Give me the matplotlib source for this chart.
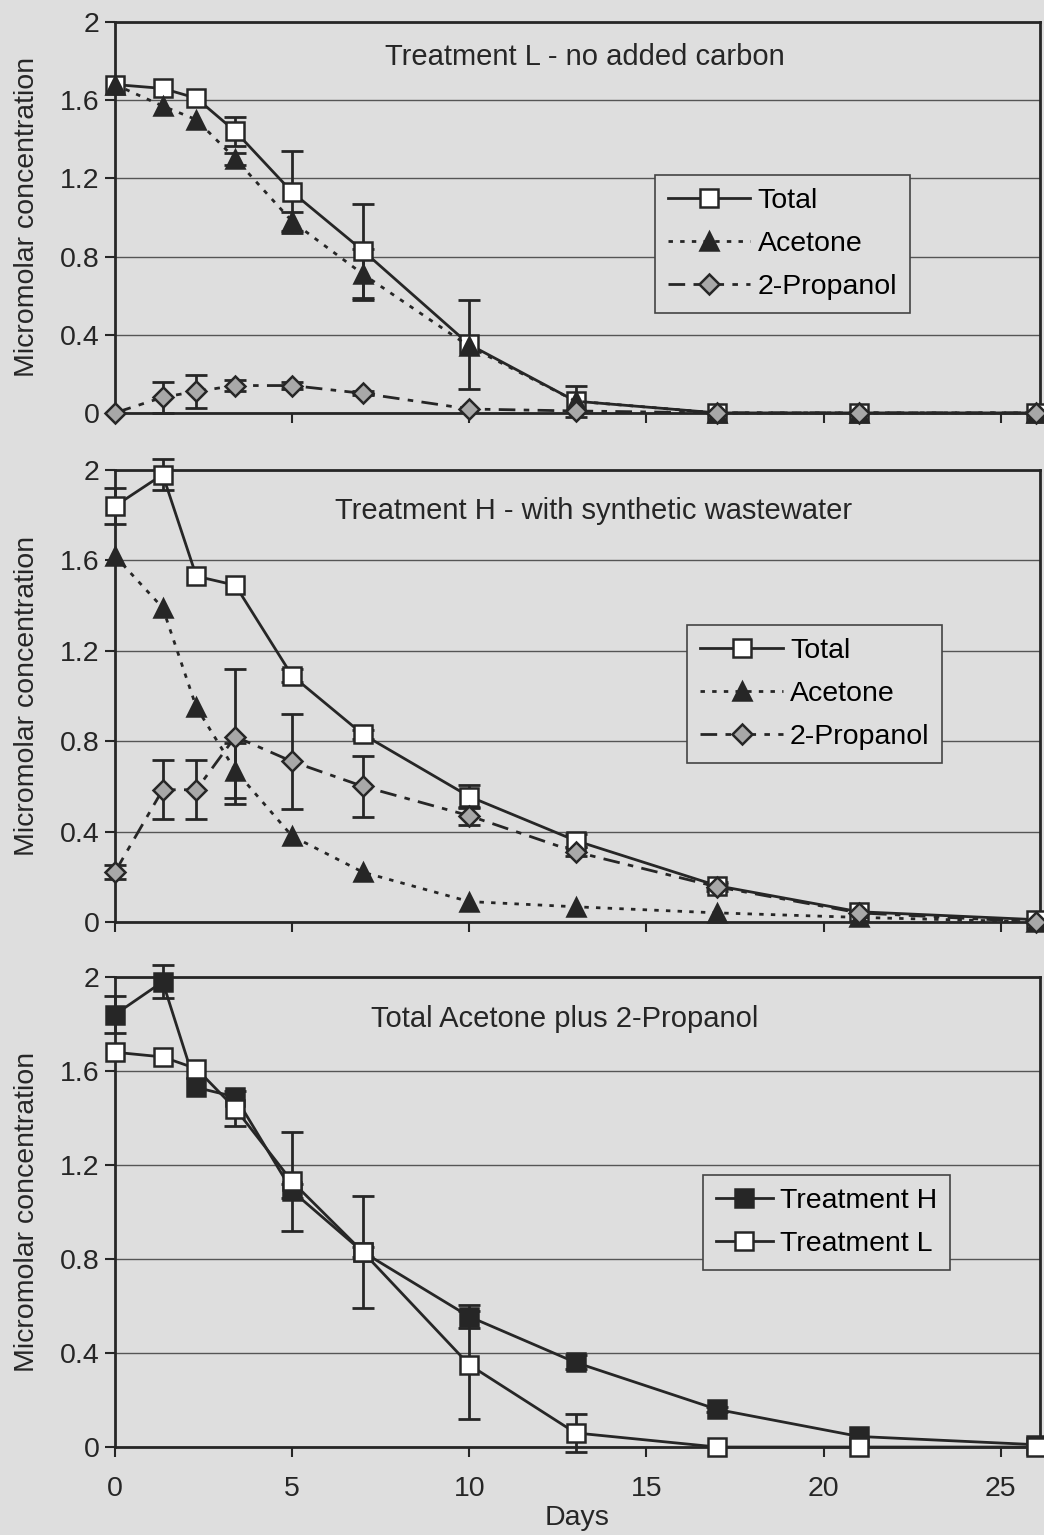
import numpy as np
import matplotlib.pyplot as plt

plt.rcParams['font.family'] = ['Liberation Sans', 'DejaVu Sans']

# sampling days
days = [0, 1.35, 2.3, 3.4, 5, 7, 10, 13, 17, 21, 26]

# Treatment L - no added carbon
L_total = [1.68, 1.66, 1.61, 1.44, 1.13, 0.83, 0.35, 0.06, 0.0, 0.0, 0.0]
L_total_err = [0, 0, 0, 0.075, 0.21, 0.24, 0.23, 0.08, 0, 0, 0]
L_acetone = [1.68, 1.57, 1.50, 1.30, 0.98, 0.71, 0.34, 0.06, 0.0, 0.0, 0.0]
L_acetone_err = [0, 0, 0, 0.03, 0.05, 0.13, 0, 0, 0, 0, 0]
L_propanol = [0.0, 0.08, 0.11, 0.14, 0.14, 0.10, 0.02, 0.01, 0.0, 0.0, 0.0]
L_propanol_err = [0, 0.08, 0.085, 0.03, 0.02, 0.01, 0, 0, 0, 0, 0]

# Treatment H - with synthetic wastewater
H_total = [1.84, 1.98, 1.53, 1.49, 1.09, 0.83, 0.555, 0.36, 0.16, 0.045, 0.01]
H_total_err = [0.08, 0.07, 0, 0, 0.03, 0.02, 0.05, 0.03, 0.01, 0, 0]
H_acetone = [1.62, 1.39, 0.95, 0.67, 0.38, 0.22, 0.09, 0.067, 0.04, 0.02, 0.0]
H_acetone_err = [0, 0, 0, 0.12, 0, 0, 0, 0, 0, 0, 0]
H_propanol = [0.22, 0.585, 0.585, 0.82, 0.71, 0.60, 0.47, 0.31, 0.155, 0.04, 0.0]
H_propanol_err = [0.03, 0.13, 0.13, 0.3, 0.21, 0.135, 0.04, 0.02, 0.02, 0, 0]

y_ticks = [0, 0.4, 0.8, 1.2, 1.6, 2]
y_ticklabels = ['0', '0.4', '0.8', '1.2', '1.6', '2']
x_ticks = [0, 5, 10, 15, 20, 25]

BG = '#dedede'
INK = '#262626'
FS = 20.5

styles = {
    'total': dict(ls='-', marker='s', mfc='white', ms=13),
    'total_h': dict(ls='-', marker='s', mfc=INK, ms=13),
    'acetone': dict(ls=(0, (1.6, 2.6)), marker='^', mfc=INK, ms=13),
    'propanol': dict(ls=(0, (6, 3, 2, 3)), marker='D', mfc='#a8a8a8', ms=10),
}


def series(ax, y, err, style, label):
    x = np.array(days)
    y = np.array(y)
    e = np.array(err)
    m = e > 0
    ax.errorbar(x[m], y[m], yerr=e[m], fmt='none', ecolor=INK, elinewidth=2,
                capsize=8, capthick=2, zorder=3, clip_on=False)
    st = styles[style]
    ax.plot(x, y, color=INK, lw=2, ls=st['ls'], marker=st['marker'],
            mfc=st['mfc'], mec=INK, mew=1.8, ms=st['ms'], label=label,
            zorder=4, clip_on=False)


def setup(ax, title, tx, show_x):
    ax.set_facecolor(BG)
    ax.set_xlim(0, 26.1)
    ax.set_ylim(0, 2)
    ax.set_yticks(y_ticks)
    ax.set_yticklabels(y_ticklabels)
    ax.set_xticks(x_ticks)
    ax.grid(axis='y', color='#555555', lw=1)
    ax.set_axisbelow(True)
    for s in ax.spines.values():
        s.set_linewidth(2)
        s.set_color(INK)
    ax.tick_params(axis='both', direction='out', length=7, width=1.5,
                   color=INK, labelsize=FS, labelcolor=INK, pad=4)
    ax.tick_params(axis='x', pad=14)
    if not show_x:
        ax.tick_params(axis='x', labelbottom=False)
    ax.set_ylabel('Micromolar concentration', fontsize=FS, color=INK, labelpad=14)
    ax.text(tx, 0.91, title, transform=ax.transAxes, ha='center', va='center',
            fontsize=FS + 0.5, color=INK)


fig = plt.figure(figsize=(10.44, 15.35), dpi=100)
fig.patch.set_facecolor(BG)

ax1 = fig.add_axes([0.110, 0.731, 0.886, 0.2547])
ax2 = fig.add_axes([0.110, 0.3994, 0.886, 0.2944])
ax3 = fig.add_axes([0.110, 0.0573, 0.886, 0.3062])

setup(ax1, 'Treatment L - no added carbon', 0.508, False)
series(ax1, L_total, L_total_err, 'total', 'Total')
series(ax1, L_acetone, L_acetone_err, 'acetone', 'Acetone')
series(ax1, L_propanol, L_propanol_err, 'propanol', '2-Propanol')

setup(ax2, 'Treatment H - with synthetic wastewater', 0.518, False)
series(ax2, H_total, H_total_err, 'total', 'Total')
series(ax2, H_acetone, H_acetone_err, 'acetone', 'Acetone')
series(ax2, H_propanol, H_propanol_err, 'propanol', '2-Propanol')

setup(ax3, 'Total Acetone plus 2-Propanol', 0.486, True)
series(ax3, H_total, H_total_err, 'total_h', 'Treatment H')
series(ax3, L_total, L_total_err, 'total', 'Treatment L')
ax3.set_xlabel('Days', fontsize=FS, color=INK, labelpad=2)

legends = ((ax1, (0.584, 0.609), 2.9), (ax2, (0.619, 0.657), 2.9),
           (ax3, (0.636, 0.579), 2.0))
for ax, loc, hl in legends:
    leg = ax.legend(loc='upper left', bbox_to_anchor=loc, fontsize=FS,
                    frameon=True, fancybox=False, framealpha=1,
                    facecolor=BG, edgecolor='#444444', handlelength=hl,
                    handletextpad=0.25, borderpad=0.45, labelspacing=0.6,
                    borderaxespad=0, numpoints=1)
    leg.get_frame().set_linewidth(1.2)
    leg.set_zorder(5)

fig.savefig('out.png', dpi=100, facecolor=BG)
